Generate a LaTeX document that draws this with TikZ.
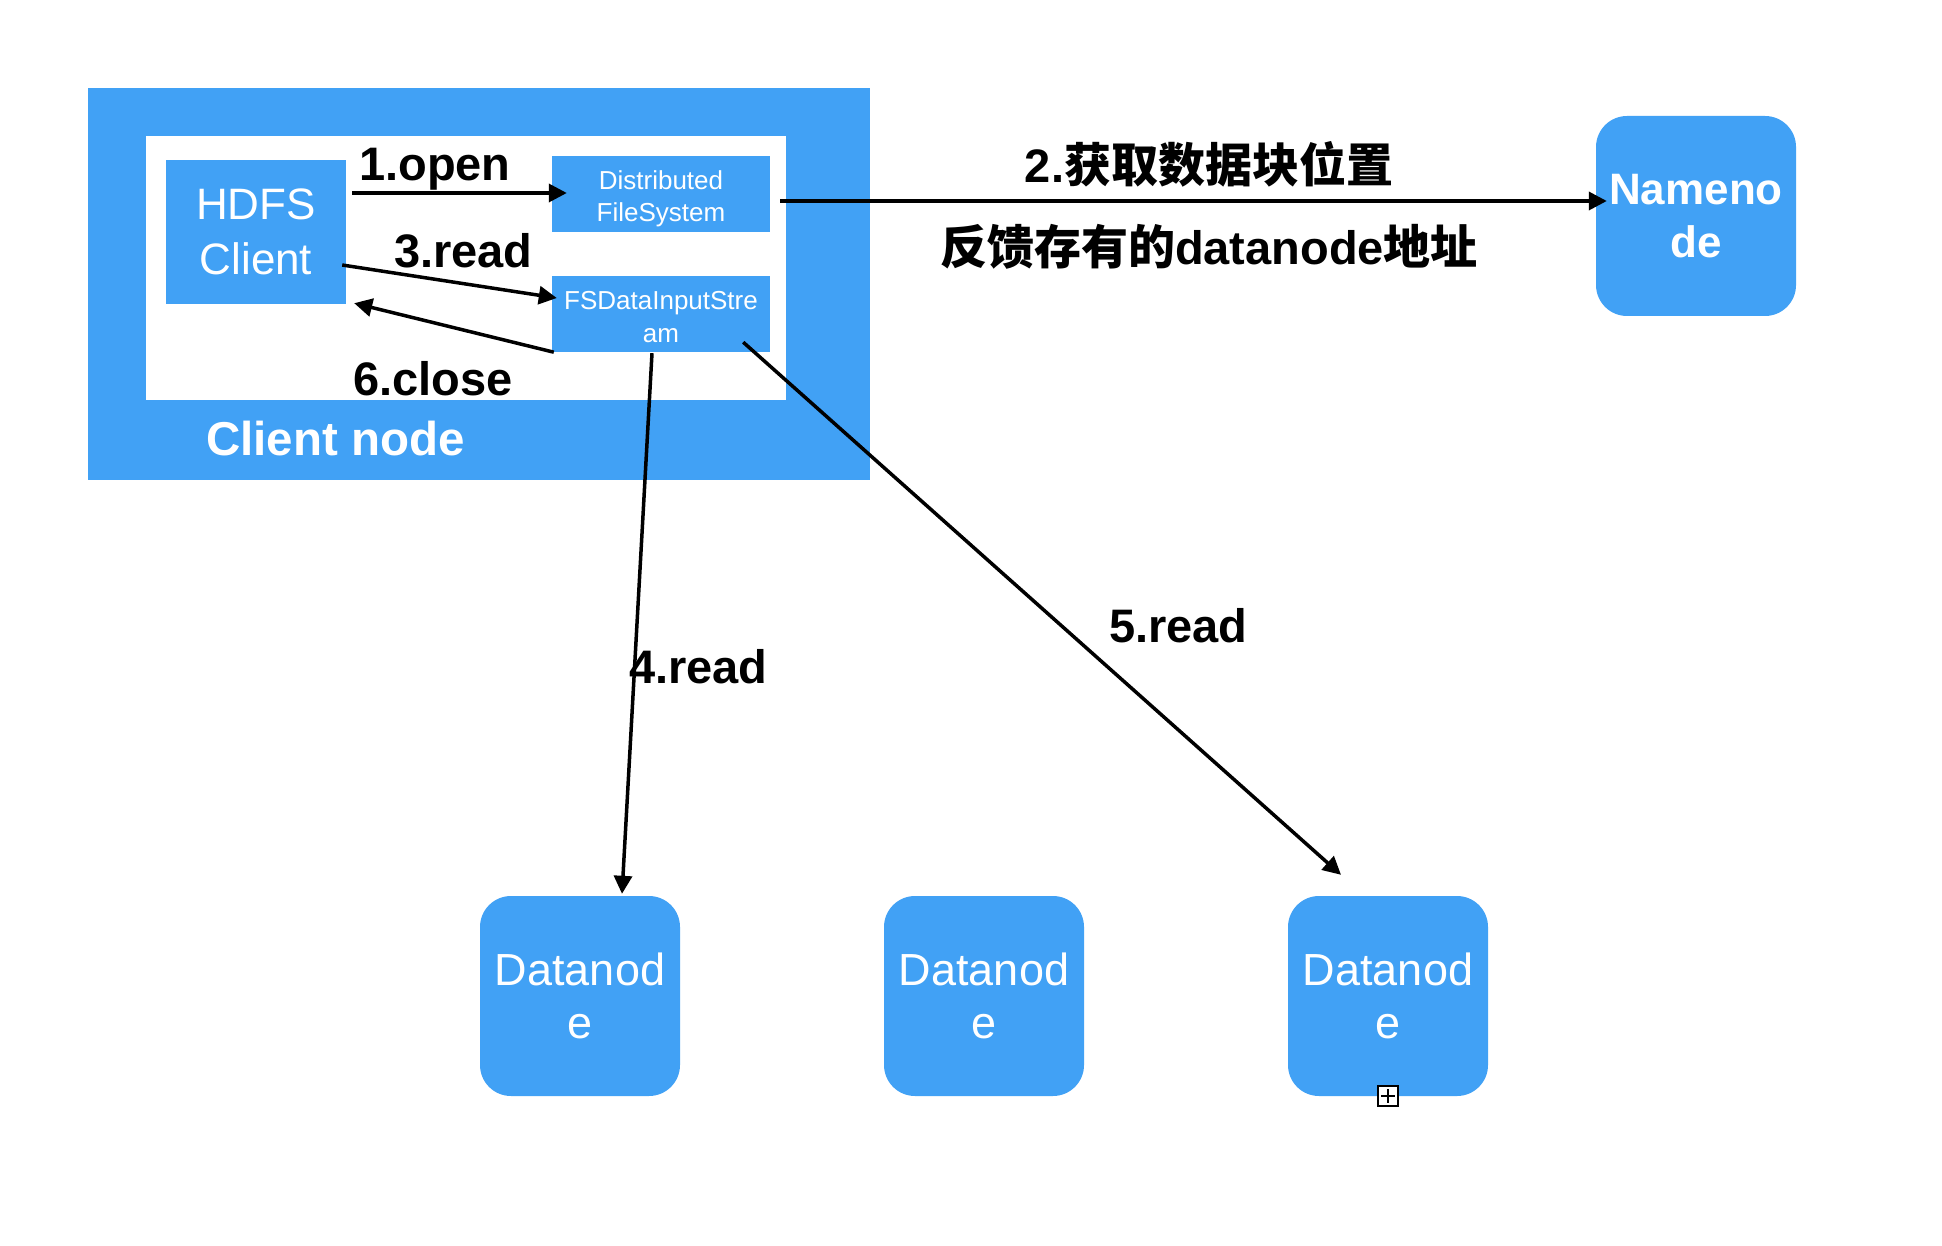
\documentclass[tikz,border=0pt]{standalone}
\usepackage{fontspec}
\setmainfont{Liberation Sans}
\newfontfamily\cjk{Noto Sans CJK SC}
\usetikzlibrary{arrows.meta,calc}
\definecolor{kblue}{RGB}{65,161,245}
\begin{document}
\begin{tikzpicture}[x=1pt,y=-1pt,
  box/.style={fill=kblue,draw=none,inner sep=0pt,text=white,align=center},
  rbox/.style={box,rounded corners=31pt,minimum width=200pt,minimum height=200pt},
  lbl/.style={font=\fontsize{47}{55}\bfseries\selectfont,inner sep=0pt,anchor=base west},
  small/.style={font=\fontsize{26}{32}\selectfont,inner sep=0pt,anchor=base,text=white},
  arr/.style={line width=3.5pt,-{Triangle[length=18pt,width=18pt]}},
]
\fill[white] (0,0) rectangle (1942,1246);
\useasboundingbox (0,0) rectangle (1942,1246);

\node[box,minimum width=782pt,minimum height=392pt] (outer) at (479,284) {};
\node[fill=white,inner sep=0pt,minimum width=640pt,minimum height=264pt] (inner) at (466,268) {};
\node[box,minimum width=180pt,minimum height=144pt,font=\fontsize{44}{54.5}\selectfont] (hdfs) at (256,232) {HDFS\\Client};
\node[box,minimum width=218pt,minimum height=76pt] (dfs) at (661,194) {};
\node[box,minimum width=218pt,minimum height=76pt] (fsd) at (661,314) {};
\begin{scope}
\clip (dfs.south west) rectangle (dfs.north east);
\node[small] (dfs1) at (661,190) {Distributed};
\node[small] (dfs2) at (661,222) {FileSystem};
\end{scope}
\begin{scope}
\clip (fsd.south west) rectangle (fsd.north east);
\node[small] (fsd1) at (661,309) {FSDataInputStre};
\node[small] (fsd2) at (661,342) {am};
\end{scope}

\node[rbox,font=\fontsize{44}{53}\bfseries\selectfont] (nn) at (1696,216) {Nameno\\de};
\node[rbox,font=\fontsize{45}{53}\selectfont] (dn1) at (580,996) {Datanod\\e};
\node[rbox,font=\fontsize{45}{53}\selectfont] (dn2) at (984,996) {Datanod\\e};
\node[rbox,font=\fontsize{45}{53}\selectfont] (dn3) at (1388,996) {Datanod\\e};

\node[lbl] (l1) at (359,181) {1.open};
\node[lbl] (l3) at (394,268) {3.read};
\node[lbl] (l6) at (353,395) {6.close};
\node[lbl,text=white,font=\fontsize{47.5}{55}\bfseries\selectfont] (lc) at (206,455) {Client node};
\node[lbl] (l4) at (629,683) {4.read};
\node[lbl] (l5) at (1109,642) {5.read};
\node[lbl,anchor=base,font=\fontsize{47}{55}\bfseries\selectfont] (l2a) at (1209,183) {2.{\cjk 获取数据块位置}};
\node[lbl,anchor=base,font=\fontsize{47}{55}\bfseries\selectfont] (l2b) at (1209,265) {{\cjk 反馈存有的}datanode{\cjk 地址}};

\draw[arr] ($(hdfs.east)+(6,-39)$) -- ($(dfs.west)+(15,-1)$);
\draw[arr] ($(dfs.east)+(10,7)$) -- ($(nn.west)+(11,-15)$);
\draw[arr] ($(hdfs.east)+(-4,33)$) -- ($(fsd.west)+(5,-16)$);
\draw[arr] ($(fsd.south west)+(2,0)$) -- ($(hdfs.south east)+(8,-1)$);
\draw[arr] ($(fsd.south)+(-9,1)$) -- ($(dn1.north)+(42,-2)$);
\draw[arr] ($(fsd.south east)+(-27,-10)$) -- ($(dn3.north)+(-47,-21)$);

\node[draw=black,fill=white,line width=2.5pt,minimum size=20pt,inner sep=0pt] (icon) at (1388,1096) {};
\draw[line width=2pt] ($(icon.center)+(-7,0)$) -- ($(icon.center)+(7,0)$) ($(icon.center)+(0,-7)$) -- ($(icon.center)+(0,7)$);
\end{tikzpicture}
\end{document}
